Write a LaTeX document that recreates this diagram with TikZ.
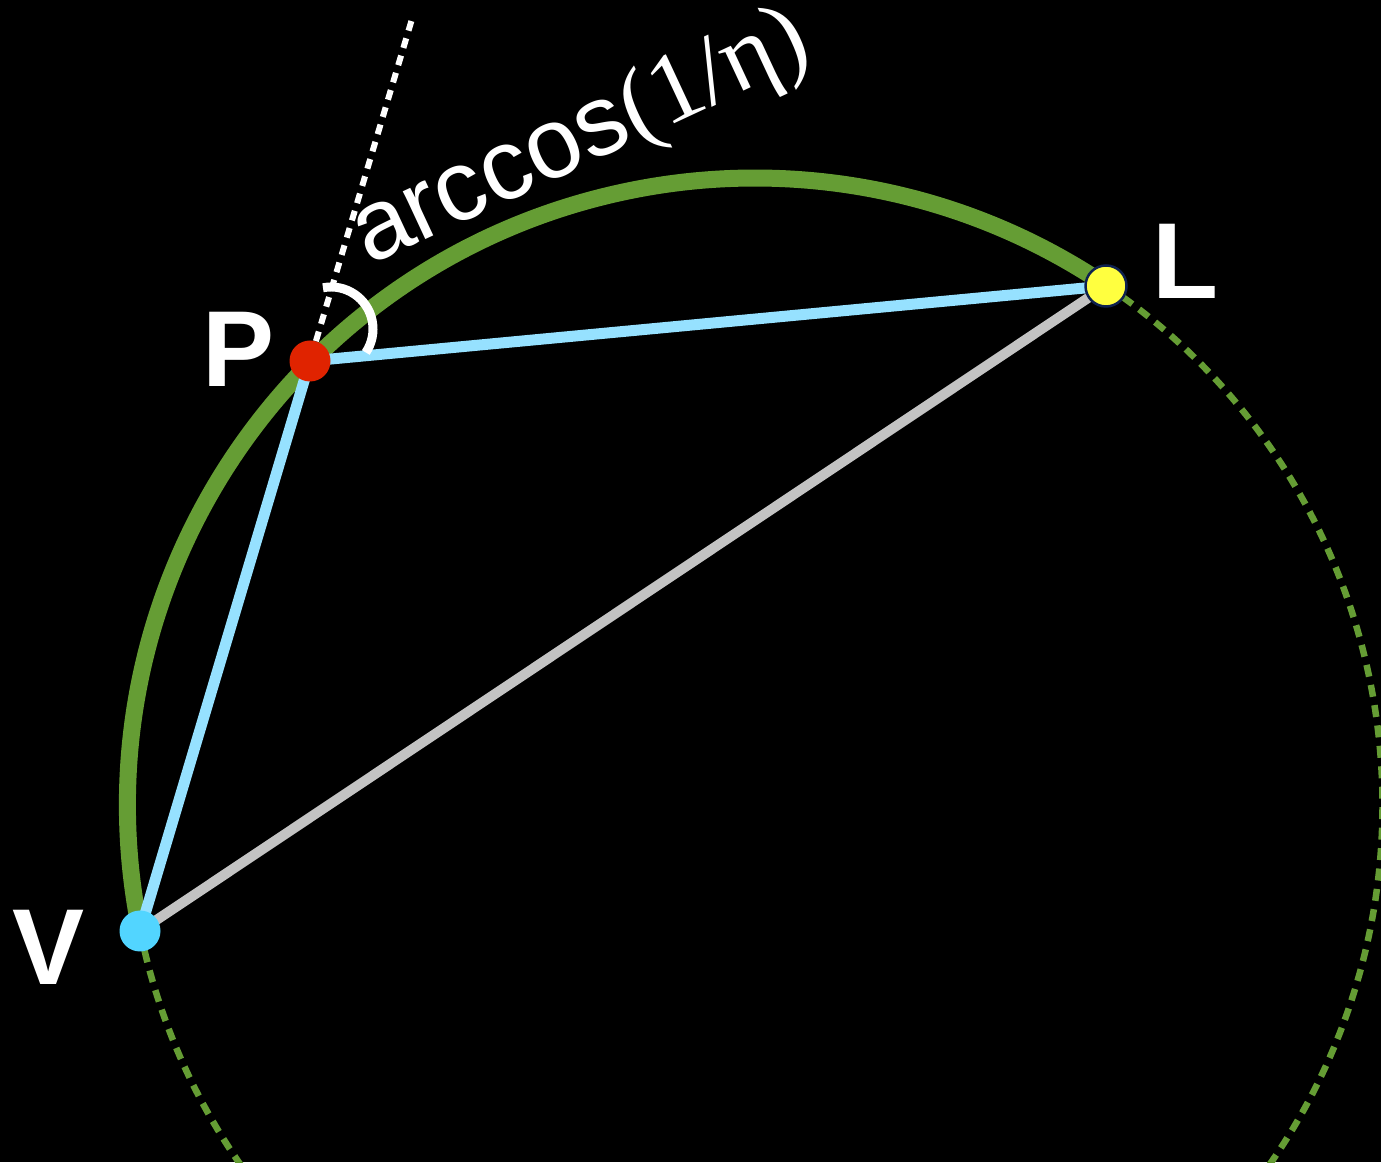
\documentclass[tikz,border=0pt]{standalone}
\usepackage{fontspec}
\setmainfont{Liberation Sans}
\newfontfamily\greekserif{Liberation Serif}
\usetikzlibrary{calc,backgrounds}

\definecolor{arcgreen}{RGB}{101,157,52}
\definecolor{raylight}{RGB}{150,225,255}
\definecolor{raygray}{RGB}{195,195,195}
\definecolor{dotred}{RGB}{224,35,0}
\definecolor{dotcyan}{RGB}{82,213,255}
\definecolor{dotyellow}{RGB}{255,255,63}
\definecolor{dotrim}{RGB}{14,33,79}

\begin{document}
\begin{tikzpicture}[x=1pt, y=1pt,
  dot/.style={circle, inner sep=0pt, minimum size=41pt},
  ptlabel/.style={text=white, inner sep=0pt, font=\fontsize{108}{108}\selectfont\bfseries},
  arcsolid/.style={arcgreen, line width=17pt},
  arcdashed/.style={arcgreen, line width=6.5pt, dash pattern=on 12pt off 8.5pt},
  ray/.style={line width=11pt}]
  \useasboundingbox (0,0) rectangle (1381,1162);

  % points on the circle
  \coordinate (O) at (755,356.5);
  \node[dot, fill=dotred] (P) at (310,801) {};
  \node[dot, fill=dotcyan] (V) at (140,231) {};
  \node[dot, fill=dotyellow, draw=dotrim, line width=2.5pt] (L) at (1106,876) {};
  \coordinate (Vext) at ($(V.center)!1.6!(P.center)$);

  \begin{scope}[on background layer]
    \fill[black] (0,0) rectangle (1381,1162);
    \draw[arcsolid] (O) ++(191.5:627.5) arc[start angle=191.5, end angle=56, radius=627.5];
    \draw[arcdashed] (O) ++(56:627.5) arc[start angle=56, end angle=-40, radius=627.5];
    \draw[arcdashed] (O) ++(191.5:627.5) arc[start angle=191.5, end angle=222, radius=627.5];
    \draw[ray, raygray, line width=10pt] (V.center) -- (L.center);
    \draw[ray, raylight] (V.center) -- (P.center) -- (L.center);
  \end{scope}

  \draw[white, line width=6pt, dash pattern=on 10pt off 8pt] (P) -- (Vext);
  \draw[white, line width=9pt] ([shift={(21,32)}]P.center) ++(101:42) arc[start angle=101, end angle=-34, radius=42];

  \node[ptlabel, anchor=center] (Plab) at (239,813) {P};
  \node[ptlabel, anchor=center] (Llab) at (1185.5,900.5) {L};
  \node[ptlabel, anchor=center] (Vlab) at (49,214.5) {V};
  \node[text=white, inner sep=0pt, anchor=base west, rotate=25,
    font=\fontsize{100}{100}\selectfont] (anglab) at (369,896) {arccos{\greekserif(1/η)}};
\end{tikzpicture}
\end{document}
